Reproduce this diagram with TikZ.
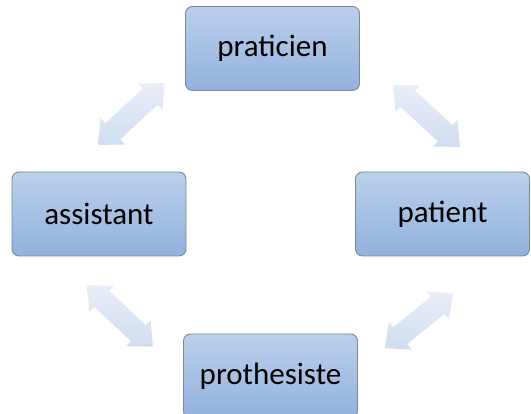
\documentclass[tikz,border=0pt]{standalone}
\usepackage{fontspec}
\setmainfont{Carlito}
\usepackage{tikz}
\usetikzlibrary{shapes.arrows}

\definecolor{boxtop}{HTML}{BBD0EB}
\definecolor{boxbottom}{HTML}{92B1DD}
\definecolor{boxline}{HTML}{7C8898}
\definecolor{arrtop}{HTML}{E8EEF7}
\definecolor{arrbottom}{HTML}{D0DDEF}

\begin{document}
\begin{tikzpicture}
  [x=1pt,y=1pt,
   every node/.style={rectangle,rounded corners=7pt,draw=boxline,line width=0.9pt,
     top color=boxtop,bottom color=boxbottom,minimum width=174pt,minimum height=84pt,
     font=\fontsize{31}{36}\selectfont},
   link/.style={double arrow,draw=none,rounded corners=0pt,top color=arrtop,bottom color=arrbottom,
     inner xsep=0pt,inner ysep=10.5pt,minimum width=0pt,minimum height=#1,
     double arrow head extend=7pt,double arrow tip angle=84,double arrow head indent=0pt}]

  \useasboundingbox (0,0) rectangle (531,414);

  \node (prat) at (272.5,365.5) {praticien};
  \node (assi) at (99,200) {assistant};
  \node (pati) at (442.5,200) {patient};
  \node (prot) at (270.5,38) {prothesiste};

  \foreach \name/\x/\y/\ang/\len in {lnkA/131.5/300/42.8/91,lnkB/426.5/298/-42.8/91,lnkC/419/93.5/39/88,lnkD/120/98/-43/90}
    \node[link=\len,rotate=\ang] (\name) at (\x,\y) {};
\end{tikzpicture}
\end{document}
